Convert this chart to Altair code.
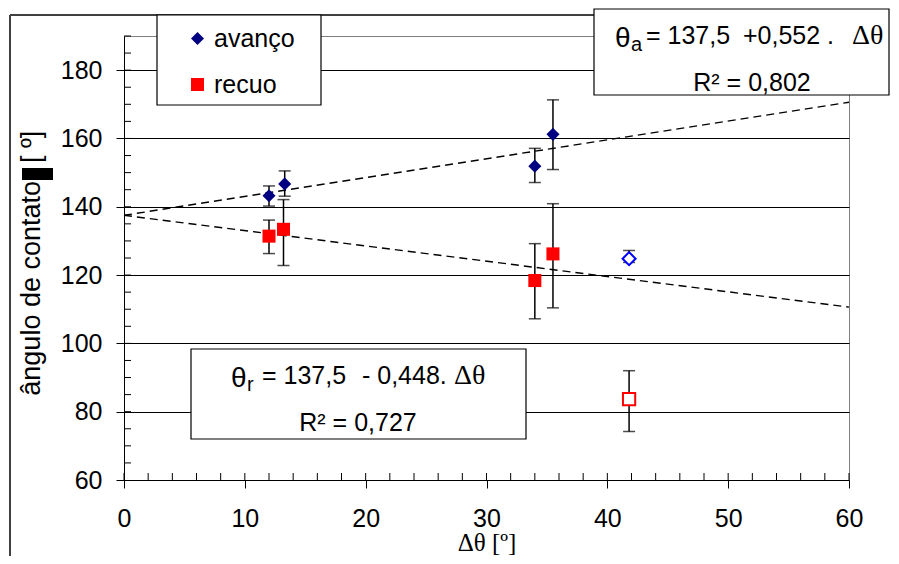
import altair as alt
import pandas as pd

# ---------------- data ----------------
SERIES = ["avanço", "recuo"]
COLORS = ["#000080", "#FF0000"]
SHAPES = ["diamond", "square"]

adv_x = [12.0, 13.3, 34.0, 35.5]
adv_y = [143.2, 146.7, 151.9, 161.2]
adv_lo = [140.2, 143.1, 147.1, 150.9]
adv_hi = [146.1, 150.5, 157.1, 171.3]

rec_x = [12.0, 13.2, 34.0, 35.5]
rec_y = [131.4, 133.4, 118.4, 126.2]
rec_lo = [126.3, 122.8, 107.2, 110.4]
rec_hi = [136.1, 142.1, 129.2, 140.9]

# points shown with open markers (not in fit)
out_series = ["avanço", "recuo"]
out_x = [41.8, 41.8]
out_y = [124.8, 83.7]
out_lo = [123.7, 74.2]
out_hi = [127.2, 92.0]

fit_intercept = [137.5, 137.5]
fit_slope = [0.552, -0.448]
fit_range = [0, 60]

X_TICKS = [0, 10, 20, 30, 40, 50, 60]
Y_TICKS = [60, 80, 100, 120, 140, 160, 180]
X_MINOR = list(range(0, 61, 2))
Y_MINOR = list(range(65, 191, 5))

# ---------------- layout ----------------
W, H = 725, 444
OX, OY = 124, 36  # page position of plot origin (page margin 8 included)
SANS = "Liberation Sans"
SERIF = "Liberation Serif"
FS = 25

xs = alt.Scale(domain=[0, 60], nice=False, zero=False)
ys = alt.Scale(domain=[60, 190], nice=False, zero=False)

pts = pd.DataFrame({
    "series": [SERIES[0]] * len(adv_x) + [SERIES[1]] * len(rec_x),
    "x": adv_x + rec_x,
    "y": adv_y + rec_y,
})
outs = pd.DataFrame({"series": out_series, "x": out_x, "y": out_y})
errs_df = pd.DataFrame({
    "x": adv_x + rec_x + out_x,
    "y": adv_lo + rec_lo + out_lo,
    "y2": adv_hi + rec_hi + out_hi,
})
caps = pd.DataFrame({"x": list(errs_df["x"]) * 2, "y": list(errs_df["y"]) + list(errs_df["y2"])})

fit_rows = []
for s, a, b in zip(SERIES, fit_intercept, fit_slope):
    for xv in fit_range:
        fit_rows.append({"series": s, "x": xv, "y": a + b * xv})
fit = pd.DataFrame(fit_rows)

xaxis = alt.Axis(values=X_TICKS, grid=False, tickSize=8, tickColor="black", tickWidth=1,
                 domainColor="black", domainWidth=1, labelFont=SANS, labelFontSize=FS,
                 labelColor="black", labelPadding=18, labelFlush=False,
                 title="Δθ [º]", titleFont=SERIF, titleFontSize=25, titleFontWeight="normal",
                 titleColor="black", titleY=70, titleBaseline="alphabetic")
yaxis = alt.Axis(values=Y_TICKS, grid=True, gridColor="black", gridWidth=1, tickSize=8,
                 tickColor="black", tickWidth=1, domainColor="black", domainWidth=1,
                 labelFont=SANS, labelFontSize=FS, labelColor="black", labelPadding=14,
                 title="")


def X(f="x:Q"):
    return alt.X(f, scale=xs, axis=xaxis)


def Y(f="y:Q"):
    return alt.Y(f, scale=ys, axis=yaxis)


one = pd.DataFrame({"k": [0]})


def px(v):
    return alt.value(v - OX)


def py(v):
    return alt.value(v - OY)


def txt(s, x, y, size, font=SANS, align="left", angle=0):
    return alt.Chart(one).mark_text(text=s, font=font, fontSize=size, align=align,
                                    baseline="alphabetic", angle=angle, color="black").encode(
        x=px(x), y=py(y))


def box(x1, y1, x2, y2, fill="white", stroke="black", sw=1.2):
    return alt.Chart(one).mark_rect(fill=fill, stroke=stroke, strokeWidth=sw).encode(
        x=px(x1), x2=px(x2), y=py(y1), y2=py(y2))


# minor ticks (inside the plot)
yminor = alt.Chart(pd.DataFrame({"y": Y_MINOR})).mark_rule(color="black", strokeWidth=1).encode(
    y=Y(), x=alt.value(0), x2=alt.value(7))
xminor = alt.Chart(pd.DataFrame({"x": X_MINOR})).mark_rule(color="black", strokeWidth=1).encode(
    x=X(), y=alt.value(H - 7), y2=alt.value(H))

fitlines = alt.Chart(fit).mark_line(color="black", strokeWidth=1.4, strokeDash=[8, 5]).encode(
    x=X(), y=Y(), detail="series:N")

errs = alt.Chart(errs_df).mark_rule(color="black", strokeWidth=1.5).encode(
    x=X(), y=Y(), y2="y2:Q")
capm = alt.Chart(caps).mark_tick(color="black", thickness=1.5, size=12, orient="horizontal").encode(
    x=X(), y=Y())

leg = alt.Legend(orient="none", legendX=61, legendY=-10, title=None, labelFont=SANS,
                 labelFontSize=FS, labelColor="black", symbolSize=170, symbolStrokeWidth=0,
                 rowPadding=20, labelOffset=4, padding=0)
points = alt.Chart(pts).mark_point(filled=True, opacity=1, size=170).encode(
    x=X(), y=Y(),
    color=alt.Color("series:N", scale=alt.Scale(domain=SERIES, range=COLORS), legend=leg),
    shape=alt.Shape("series:N", scale=alt.Scale(domain=SERIES, range=SHAPES), legend=leg))

open_a = alt.Chart(outs[outs.series == SERIES[0]]).mark_point(
    shape="diamond", filled=False, fill="white", fillOpacity=1, color="#0000FF", strokeWidth=2,
    size=170, opacity=1).encode(x=X(), y=Y())
open_r = alt.Chart(outs[outs.series == SERIES[1]]).mark_point(
    shape="square", filled=False, fill="white", fillOpacity=1, color="#FF0000", strokeWidth=2,
    size=150, opacity=1).encode(x=X(), y=Y())

# frame and boxes
frame_left = alt.Chart(one).mark_rule(color="#404040", strokeWidth=2).encode(
    x=px(10), y=py(15), y2=py(600))
frame_top = alt.Chart(one).mark_rule(color="#404040", strokeWidth=2).encode(
    x=px(10), x2=px(594), y=py(15))
legend_box = box(157, 15, 321, 105)
eqa_box = box(594, 9, 889, 95)
eqr_box = box(191, 349, 526, 439)

texts = [
    # equation for advancing angle
    txt("θ", 615, 47, 28),
    txt("a", 631, 51, 20),
    txt("= 137,5", 646, 44, FS),
    txt("+0,552 .", 743, 44, FS),
    txt("Δθ", 852, 44, 28, font=SERIF),
    txt("R² = 0,802", 752, 91, FS, align="center"),
    # equation for receding angle
    txt("θ", 231, 387, 28),
    txt("r", 247, 391, 20),
    txt("= 137,5", 262, 384, FS),
    txt("- 0,448.", 362, 384, FS),
    txt("Δθ", 454, 384, 28, font=SERIF),
    txt("R² = 0,727", 358, 431, FS, align="center"),
    # y axis title
    txt("ângulo de contato", 40, 181, 27, align="right", angle=270),
    txt("[ º]", 40, 163, 27, align="left", angle=270),
]
title_block = box(22, 168, 53, 180, fill="black", stroke="black", sw=0)

chart = alt.layer(
    fitlines, yminor, xminor, errs, capm, points, open_a, open_r,
    frame_left, frame_top, legend_box, eqa_box, eqr_box, title_block, *texts
).properties(
    width=W, height=H,
    padding={"left": OX - 8, "top": OY - 8, "right": 883 - (OX - 8) - W, "bottom": 548 - (OY - 8) - H},
    autosize=alt.AutoSizeParams(type="none"),
).configure(font=SANS).configure_view(stroke="#808080", strokeWidth=1)

chart.save("out.html", embed_options={"renderer": "svg", "actions": False})
